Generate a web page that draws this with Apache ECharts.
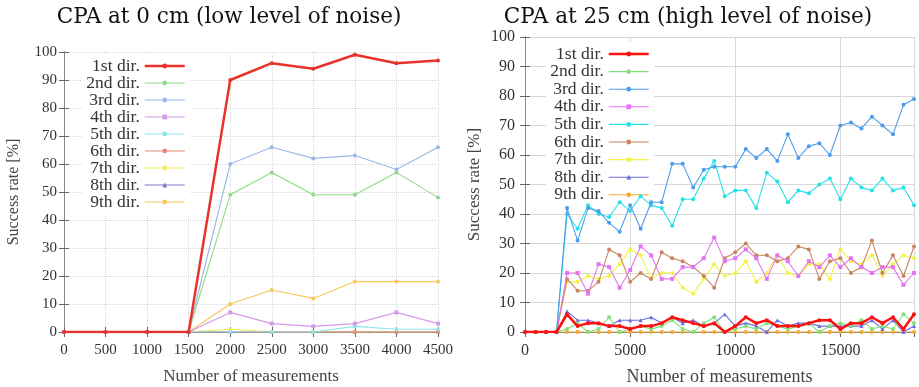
<!DOCTYPE html>
<html><head><meta charset="utf-8">
<script src="https://cdn.jsdelivr.net/npm/echarts@6/dist/echarts.min.js"></script>
<style>html,body{margin:0;padding:0;background:#fff}#c{width:919px;height:387px}</style>
</head><body><div id="c"></div>
<script>
const names = ['1st dir.','2nd dir.','3rd dir.','4th dir.','5th dir.','6th dir.','7th dir.','8th dir.','9th dir.'];
const leftX = [0,500,1000,1500,2000,2500,3000,3500,4000,4500];
const left1 = [0,0,0,0,90,96,94,99,96,97];
const left2 = [0,0,0,0,49,57,49,49,57,48];
const left3 = [0,0,0,0,60,66,62,63,58,66];
const left4 = [0,0,0,0,7,3,2,3,7,3];
const left5 = [0,0,0,0,0,0,0,2,1,1];
const left6 = [0,0,0,0,0,0,0,0,0,0];
const left7 = [0,0,0,0,1,0,0,0,0,0];
const left8 = [0,0,0,0,0,0,0,0,0,0];
const left9 = [0,0,0,0,10,15,12,18,18,18];

const rightX = [0,500,1000,1500,2000,2500,3000,3500,4000,4500,5000,5500,6000,6500,7000,7500,8000,8500,9000,9500,10000,10500,11000,11500,12000,12500,13000,13500,14000,14500,15000,15500,16000,16500,17000,17500,18000,18500];
const right1 = [0,0,0,0,6,2,3,3,2,2,1,2,2,3,5,4,3,2,3,0,2,5,3,4,2,2,2,3,4,4,1,3,3,5,3,5,1,6];
const right2 = [0,0,0,0,1,3,0,1,5,0,1,2,1,2,4,1,0,3,5,0,1,2,1,3,2,1,2,3,0,2,3,2,4,1,2,1,6,3];
const right3 = [0,0,0,0,42,31,42,41,37,34,43,35,44,44,57,57,49,55,56,56,56,62,59,62,58,67,59,63,64,60,70,71,69,73,70,67,77,79];
const right4 = [0,0,0,0,20,20,13,23,22,15,21,29,26,18,18,22,22,25,32,24,25,28,25,18,26,24,19,24,22,26,22,25,22,20,22,22,16,20];
const right5 = [0,0,0,0,40,35,43,40,39,44,41,46,43,42,36,45,45,52,58,46,48,48,42,54,51,44,48,47,50,52,45,52,49,48,52,48,49,43];
const right6 = [0,0,0,0,18,14,14,17,28,26,17,20,18,27,25,24,22,19,15,25,27,30,26,26,24,25,29,28,18,24,25,20,22,31,20,26,19,29];
const right7 = [0,0,0,0,17,17,19,18,19,23,28,26,18,20,20,15,13,18,23,19,20,24,17,20,26,20,19,23,23,18,28,24,23,26,19,23,26,25];
const right8 = [0,0,0,0,7,4,4,3,2,4,4,4,5,3,5,3,4,2,3,6,2,3,2,0,4,2,3,3,2,2,2,2,2,4,1,4,0,2];
const right9 = [0,0,0,0,0,0,0,0,0,0,0,0,0,0,0,0,0,0,0,0,0,0,0,0,0,0,0,0,0,0,0,0,0,0,0,0,0,0];

const leftData = [left1,left2,left3,left4,left5,left6,left7,left8,left9];
const rightData = [right1,right2,right3,right4,right5,right6,right7,right8,right9];
const leftColors = ['#e8322a','#92d88a','#9ab8e6','#d49aea','#8ee6ee','#e48a7a','#eeee58','#7a7ac8','#f8c65a'];
const rightColors = ['#ff1010','#84e07c','#4c9cec','#e474f4','#22e2ea','#c8845e','#f2f244','#6c6ce0','#f2a82e'];
const symbols = ['circle','circle','circle','rect','circle','circle','circle','triangle','circle'];

const FONT = 'Liberation Serif';
const txt = {fontFamily: FONT, color: '#333'};

function mkSeries(xs, data, colors, idx) {
  return data.map((d, i) => ({
    name: names[i], type: 'line', xAxisIndex: idx, yAxisIndex: idx,
    data: xs.map((x, j) => [x, d[j]]),
    symbol: symbols[i], symbolSize: 4, showSymbol: true,
    lineStyle: {width: i === 0 ? 2.5 : 1.1, color: colors[i]},
    itemStyle: {color: colors[i]},
    z: 10 - i, animation: false
  }));
}

function xAx(idx, max, interval, dotted, fs, nameFs) {
  return {
    type: 'value', gridIndex: idx, min: 0, max: max, interval: interval,
    name: 'Number of measurements', nameLocation: 'middle', nameGap: 36,
    nameTextStyle: Object.assign({}, txt, {fontSize: nameFs, color: '#444'}),
    axisLine: {show: true, lineStyle: {color: '#888'}},
    axisTick: {show: true, inside: true, length: 5, lineStyle: {color: '#666'}},
    axisLabel: Object.assign({}, txt, {fontSize: fs, margin: 11, showMaxLabel: max % interval === 0,
      formatter: v => (v % interval === 0 ? String(v) : '')}),
    splitLine: {show: true, lineStyle: {color: '#d8d8d8', type: dotted ? 'dotted' : 'solid', width: 1}}
  };
}
function xTop(idx, max, interval) {
  return {type: 'value', gridIndex: idx, min: 0, max: max, interval: interval, position: 'top',
    axisLine: {show: true, lineStyle: {color: '#888'}},
    axisTick: {show: true, inside: true, length: 5, lineStyle: {color: '#666'}},
    axisLabel: {show: false}, splitLine: {show: false}};
}
function yAx(idx, dotted, fs, nameFs, margin, nameGap) {
  return {
    type: 'value', gridIndex: idx, min: 0, max: 100, interval: 10,
    name: 'Success rate [%]', nameLocation: 'middle', nameGap: nameGap,
    nameTextStyle: Object.assign({}, txt, {fontSize: nameFs, color: '#444'}),
    axisLine: {show: true, lineStyle: {color: '#888'}},
    axisTick: {show: true, inside: true, length: 5, lineStyle: {color: '#666'}},
    axisLabel: Object.assign({}, txt, {fontSize: fs, margin: margin}),
    splitLine: {show: true, lineStyle: {color: '#d8d8d8', type: dotted ? 'dotted' : 'solid', width: 1}}
  };
}
function yRight(idx) {
  return {type: 'value', gridIndex: idx, min: 0, max: 100, interval: 10, position: 'right',
    axisLine: {show: true, lineStyle: {color: '#888'}},
    axisTick: {show: true, inside: true, length: 5, lineStyle: {color: '#666'}},
    axisLabel: {show: false}, splitLine: {show: false}};
}
function legend(right, top, colors, lh, gap) {
  return {
    orient: 'vertical', right: right, top: top, align: 'right',
    itemWidth: 40, itemHeight: 6, itemGap: gap, padding: [3, 4, 3, 4],
    backgroundColor: '#fff',
    data: names.map((n, i) => ({name: n,
      itemStyle: {color: colors[i]}, lineStyle: {color: colors[i], width: i === 0 ? 2.5 : 1.1}})),
    textStyle: Object.assign({}, txt, {fontSize: 17.5, color: '#333', lineHeight: lh}),
    selectedMode: false
  };
}

const chart = echarts.init(document.getElementById('c'), null, {renderer: 'canvas'});
const series = mkSeries(leftX, leftData, leftColors, 0).concat(mkSeries(rightX, rightData, rightColors, 1));
const option = {
  animation: false,
  backgroundColor: '#fff',
  title: [
    {text: 'CPA at 0 cm (low level of noise)', left: 224, top: 1, textAlign: 'center',
     textStyle: {fontFamily: 'DejaVu Serif', fontSize: 21.5, fontWeight: 'normal', color: '#111'}},
    {text: 'CPA at 25 cm (high level of noise)', left: 683, top: 1, textAlign: 'center',
     textStyle: {fontFamily: 'DejaVu Serif', fontSize: 21.5, fontWeight: 'normal', color: '#111'}}
  ],
  grid: [
    {left: 64, top: 52, width: 374, height: 280, outerBoundsMode: 'none'},
    {left: 525, top: 37, width: 389, height: 295, outerBoundsMode: 'none'}
  ],
  xAxis: [xAx(0, 4500, 500, true, 15, 17), xAx(1, 18500, 5000, false, 16, 18), xTop(0, 4500, 500), xTop(1, 18500, 5000)],
  yAxis: [yAx(0, true, 15, 16, 7, 42), yAx(1, false, 16, 17, 10, 42), yRight(0), yRight(1)],
  legend: [
    legend(919 - 190, 54, leftColors, 17, -1),
    legend(919 - 654, 42, rightColors, 17, -0.4)
  ],
  series: series
};
chart.setOption(option);
</script>
</body></html>
